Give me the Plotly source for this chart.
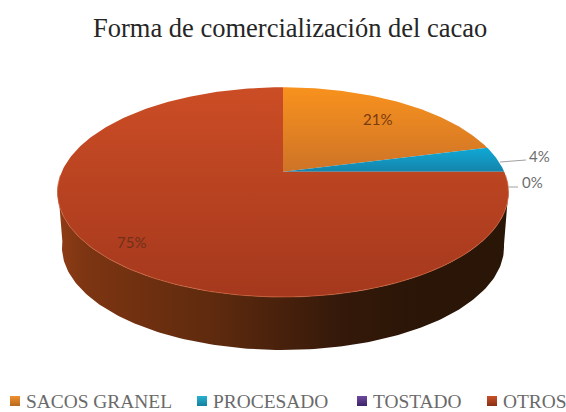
import numpy as np
import plotly.graph_objects as go

TITLE = "Forma de comercialización del cacao"
categories = ["SACOS GRANEL", "PROCESADO", "TOSTADO", "OTROS"]
values = [21, 4, 0, 75]

top_gradients = [
    ("#f8921d", "#cd7228"),
    ("#10a9d6", "#157fa6"),
    ("#6a3f98", "#4a2a70"),
    ("#cb4d25", "#a5381d"),
]
swatch_colors = [("#f09030", "#b86a20"), ("#2ab0d0", "#14809f"),
                 ("#6f4aa0", "#3c2468"), ("#c8502a", "#8a3015")]
side_stops = [[0, "#8f3c16"], [0.06, "#7d3512"], [0.35, "#5e2a0e"],
              [0.62, "#35190a"], [0.8, "#2a1506"], [1, "#2a1606"]]

# Perspective projection of the tilted disc onto the page
CX, CY = 283.0, 171.7
RX, RY = 221.2, 100.9
PERSP = 0.195
DROP = 55.5
SHRINK = 0.98


def project(theta):
    u, v = np.sin(theta), np.cos(theta)
    w = 1 + PERSP * v
    return CX + RX * u / w, CY - RY * v / w


def lower_rim(theta):
    x, y = project(theta)
    return CX + (x - CX) * SHRINK, CY + (y - CY) * SHRINK + DROP


shares = np.array(values) / sum(values)
edges = np.concatenate([[0], np.cumsum(shares)]) * 2 * np.pi

fig = go.Figure()

# Visible wall of the disc, front half of the rim
rim = np.linspace(np.radians(100), np.radians(262), 160)
top_x, top_y = project(rim)
low_x, low_y = lower_rim(rim)
fig.add_trace(go.Scatter(
    x=np.concatenate([top_x, low_x[::-1]]),
    y=np.concatenate([top_y, low_y[::-1]]),
    mode="lines", line=dict(width=0), fill="toself",
    fillgradient=dict(type="horizontal", colorscale=side_stops, start=58, stop=509),
    hoverinfo="skip", showlegend=False,
))

# Top face, one wedge per category
for i, name in enumerate(categories):
    arc = np.linspace(edges[i], edges[i + 1], max(2, int(values[i] * 4) + 2))
    ax, ay = project(arc)
    start = ay.min() if values[i] < 50 else 87
    stop = CY + 3 if values[i] < 50 else 297
    fig.add_trace(go.Scatter(
        x=np.concatenate([[CX], ax, [CX]]),
        y=np.concatenate([[CY], ay, [CY]]),
        mode="lines", line=dict(width=0), fill="toself",
        fillgradient=dict(type="vertical",
                          colorscale=[[0, top_gradients[i][0]], [1, top_gradients[i][1]]],
                          start=start, stop=stop),
        name=name, hoverinfo="name", showlegend=False,
    ))

# Lighter edge where the face meets the wall
edge_x, edge_y = project(np.linspace(np.radians(92), np.radians(268), 160))
fig.add_trace(go.Scatter(x=edge_x, y=edge_y, mode="lines",
                         line=dict(width=1, color="rgba(205,100,60,0.7)"),
                         hoverinfo="skip", showlegend=False))

# Leader lines for the two thin wedges
fig.add_trace(go.Scatter(x=[500, 526], y=[162, 160], mode="lines",
                         line=dict(width=1, color="#a0a0a0"),
                         hoverinfo="skip", showlegend=False))
fig.add_trace(go.Scatter(x=[508, 518], y=[187, 187], mode="lines",
                         line=dict(width=1, color="#a0a0a0"),
                         hoverinfo="skip", showlegend=False))

label_style = [
    (377, 119, "#7a3a10"),
    (539, 156, "#6e6e6e"),
    (532, 182, "#6e6e6e"),
    (131, 242, "#70301a"),
]
annotations = [
    dict(x=x, y=y, text=f"{v}%", showarrow=False, xanchor="center", yanchor="middle",
         font=dict(family="Lato", size=15, color=c))
    for (x, y, c), v in zip(label_style, values)
]

# Legend row: gradient swatch followed by its caption
swatch_x = [15, 202, 362, 492]
for sx, name, (c0, c1) in zip(swatch_x, categories, swatch_colors):
    fig.add_trace(go.Scatter(
        x=[sx], y=[401], mode="markers",
        marker=dict(symbol="square", size=10, color=c0,
                    gradient=dict(type="vertical", color=c1), line=dict(width=0)),
        hoverinfo="skip", showlegend=False,
    ))
    annotations.append(dict(
        x=sx + 9, y=401, text=name, showarrow=False, xanchor="left", yanchor="middle",
        font=dict(family="Liberation Serif", size=19.4, color="#6a6a6a"),
    ))

annotations.append(dict(
    x=289.5, y=28, text=TITLE, showarrow=False, xanchor="center", yanchor="middle",
    font=dict(family="Liberation Serif", size=26.5, color="#262626"),
))

fig.update_layout(
    width=566, height=412, margin=dict(l=0, r=0, t=0, b=0),
    paper_bgcolor="white", plot_bgcolor="white",
    xaxis=dict(range=[0, 566], visible=False, fixedrange=True),
    yaxis=dict(range=[412, 0], visible=False, fixedrange=True),
    annotations=annotations, showlegend=False,
)

fig.write_html("out.html")
